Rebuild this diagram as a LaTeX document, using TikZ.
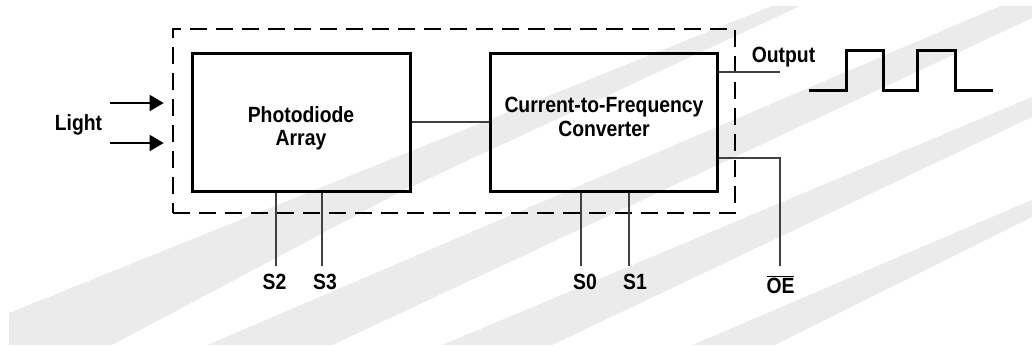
\documentclass[tikz,border=0pt]{standalone}
\usepackage{fontspec}
\setmainfont{Liberation Sans}
\usetikzlibrary{arrows.meta}
\newcommand\narrowtxt[1]{\scalebox{0.88}[1]{#1}}
\begin{document}
\begin{tikzpicture}[x=1pt,y=-1pt,
  blk/.style={draw=black,line width=3pt,minimum width=#1,minimum height=138pt,inner sep=0pt},
  dashbox/.style={draw=black,line width=2.6pt,dash pattern=on 17pt off 9pt,minimum width=562pt,minimum height=184pt,inner sep=0pt},
  txt/.style={font=\fontsize{22}{23.5}\selectfont\bfseries,align=center,inner sep=0pt},
  lbl/.style={font=\fontsize{22}{23.5}\selectfont\bfseries,inner sep=0pt,anchor=base},
  wire/.style={draw=black!75,line width=1.3pt},
  arr/.style={draw=black,line width=1.5pt,-{Triangle[length=14pt,width=16pt]}},
  wave/.style={draw=black,line width=3pt,line join=miter},
  stripe/.style={fill=black!8,draw=none}]
\useasboundingbox (0,0) rectangle (1032,346);
\fill[white] (0,0) rectangle (1032,346);
\begin{scope}
\clip (9,6) rectangle (1032,344);
\fill[stripe] (9,313) -- (9,346) -- (110,346) -- (400,192) -- (800,6) -- (772,6) -- cycle;
\fill[stripe] (205,346) -- (330,346) -- (1032,18) -- (1032,6) -- (1000,6) -- cycle;
\fill[stripe] (440,346) -- (550,346) -- (1032,117) -- (1032,97) -- cycle;
\fill[stripe] (690,346) -- (773,346) -- (1032,217) -- (1032,200) -- cycle;
\end{scope}
% dashed enclosure
\node[dashbox] (dash) at (454,121) {};
% blocks
\node[blk=218pt] (pd) at (301,122) {};
\node[blk=227pt] (ctf) at (603.5,122) {};
\node[txt] (pdt) at (301,128.5) {\narrowtxt{Photodiode}\\\narrowtxt{Array}};
\node[txt] (ctft) at (604,117) {\narrowtxt{Current-to-Frequency}\\\narrowtxt{Converter}};
% internal connection
\draw[wire] (pd.east) -- (ctf.west);
% light input
\node[lbl] (light) at (78.5,130) {\narrowtxt{Light}};
\coordinate (l1) at (110,103);
\coordinate (l2) at (110,143);
\draw[arr] (l1) -- ([xshift=-8pt]dash.west |- l1);
\draw[arr] (l2) -- ([xshift=-8pt]dash.west |- l2);
% select lines
\coordinate (s2e) at (276,266);
\coordinate (s3e) at (322,266);
\coordinate (s0e) at (581,266);
\coordinate (s1e) at (629,266);
\draw[wire] (pd.south -| s2e) -- (s2e);
\draw[wire] (pd.south -| s3e) -- (s3e);
\draw[wire] (ctf.south -| s0e) -- (s0e);
\draw[wire] (ctf.south -| s1e) -- (s1e);
\node[lbl] (s2) at (274.5,289) {\narrowtxt{S2}};
\node[lbl] (s3) at (325,289) {\narrowtxt{S3}};
\node[lbl] (s0) at (585,289) {\narrowtxt{S0}};
\node[lbl] (s1) at (635,289) {\narrowtxt{S1}};
% output
\coordinate (oute) at (780,72);
\draw[wire] (ctf.east |- oute) -- (oute);
\node[lbl] (out) at (783.5,62) {\narrowtxt{Output}};
% OE
\coordinate (oec) at (780,158);
\coordinate (oee) at (780,266);
\draw[wire] (ctf.east |- oec) -- (oec) -- (oee);
\node[lbl] (oe) at (780.5,293) {\narrowtxt{$\overline{\mbox{OE}}$}};
% waveform
\draw[wave] (809,90) -- (846,90) -- (846,50) -- (883,50) -- (883,90) -- (917,90) -- (917,50) -- (955,50) -- (955,90) -- (993,90);
\end{tikzpicture}
\end{document}
